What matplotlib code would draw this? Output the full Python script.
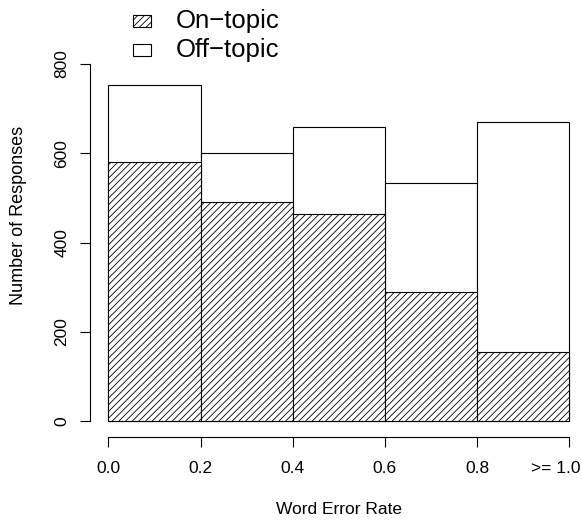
import matplotlib
matplotlib.use("Agg")
import matplotlib.pyplot as plt
import matplotlib.transforms as mtransforms
import numpy as np
from matplotlib.patches import Rectangle

# Word error rate bins and response counts
bin_labels = ["0.0", "0.2", "0.4", "0.6", "0.8", ">= 1.0"]
bin_edges = [0.0, 0.2, 0.4, 0.6, 0.8, 1.0]
on_topic = [581, 490, 463, 289, 154]
off_topic = [173, 111, 195, 244, 515]
y_ticks = [0, 200, 400, 600, 800]

plt.rcParams['font.family'] = ['Liberation Sans', 'DejaVu Sans']
plt.rcParams['hatch.linewidth'] = 0.6

W, H = 582, 521
fig = plt.figure(figsize=(W / 100, H / 100), dpi=100)

# axes box in pixel coords: left spine at x=90, bottom spine at y=437
left_px, right_px, bottom_px, top_px = 90, 582, 437, 50
ax = fig.add_axes([left_px / W, 1 - bottom_px / H, (right_px - left_px) / W, (bottom_px - top_px) / H])

# data -> pixel mapping
x0_px, x1_px = 108.3, 569.3
px_per_x = x1_px - x0_px
ax.set_xlim(-(x0_px - left_px) / px_per_x, 1 + (right_px - x1_px) / px_per_x)
px_per_y = (421 - 64) / 800
ax.set_ylim(-(bottom_px - 421) / px_per_y, (421 - top_px) / px_per_y)

left = np.array(bin_edges[:-1])
width = np.diff(bin_edges)
totals = np.array(on_topic) + np.array(off_topic)

ax.bar(left, totals, width=width, align='edge', color='white', edgecolor='black', linewidth=0.8)
ax.bar(left, on_topic, width=width, align='edge', color='white', edgecolor='black', linewidth=0.8, hatch='/////')

for s in ['top', 'right']:
    ax.spines[s].set_visible(False)
ax.spines['left'].set_bounds(0, 800)
ax.spines['bottom'].set_bounds(0, 1)
ax.spines['left'].set_linewidth(0.8)
ax.spines['bottom'].set_linewidth(0.8)

ax.set_xticks(bin_edges)
ax.set_xticklabels(bin_labels, fontsize=12.5)
ax.set_yticks(y_ticks)
ax.set_yticklabels([str(v) for v in y_ticks], fontsize=12.5, rotation=90, va='center')
ax.tick_params(axis='both', length=7, width=0.8, direction='out')
ax.tick_params(axis='x', pad=10.5)
ax.tick_params(axis='y', pad=8)

# last label sits left of its tick so it stays inside the picture
last = ax.get_xticklabels()[-1]
last.set_transform(last.get_transform() + mtransforms.ScaledTranslation(-0.14, 0, fig.dpi_scale_trans))

fig.text(339 / W, 1 - 510 / H, "Word Error Rate", ha='center', va='center', fontsize=12.5)
fig.text(19 / W, 1 - 215 / H, "Number of Responses", ha='center', va='center', fontsize=13, rotation=90)

# legend drawn by hand, R style
leg_items = [("On\u2212topic", '/////'), ("Off\u2212topic", None)]
for i, (lab, hatch) in enumerate(leg_items):
    cy = 21 + i * 29
    fig.patches.append(Rectangle((133 / W, 1 - (cy + 6) / H), 18 / W, 12 / H,
                                 transform=fig.transFigure, facecolor='white',
                                 edgecolor='black', linewidth=0.8, hatch=hatch))
    fig.text(176 / W, 1 - cy / H, lab, ha='left', va='center', fontsize=18.5)

fig.savefig("out.png", dpi=100)
